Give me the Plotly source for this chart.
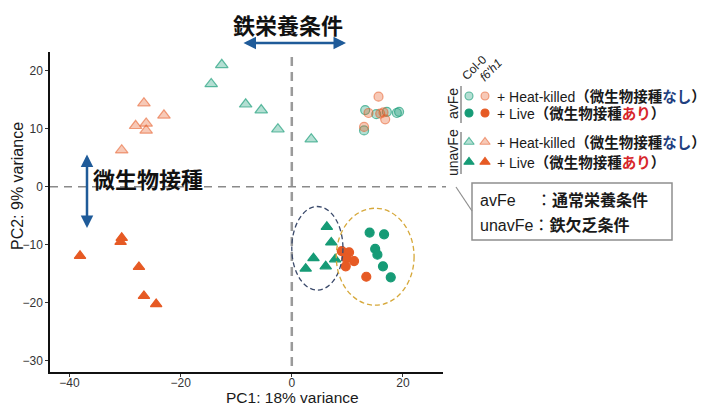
import plotly.graph_objects as go

# ---------------- data ----------------
# avFe, heat-killed (circles, light)
col0_hk_av_x = [13.2, 15.2, 17.1, 18.9, 19.3, 13.0]
col0_hk_av_y = [13.2, 12.5, 12.9, 12.7, 12.9, 9.7]
f6h1_hk_av_x = [15.6, 13.8, 16.5, 15.9, 16.8, 13.0]
f6h1_hk_av_y = [15.5, 12.7, 12.8, 12.6, 11.6, 10.3]
# avFe, live (circles, solid)
col0_live_av_x = [14.0, 16.6, 15.0, 15.4, 16.4, 17.8]
col0_live_av_y = [-7.9, -8.2, -10.7, -11.7, -13.7, -15.6]
f6h1_live_av_x = [9.0, 10.3, 9.8, 11.2, 9.7, 13.4]
f6h1_live_av_y = [-11.1, -11.3, -12.3, -12.8, -13.7, -15.5]
# unavFe, heat-killed (triangles, light)
col0_hk_unav_x = [-14.5, -12.6, -8.3, -5.5, -2.5, 3.5]
col0_hk_unav_y = [17.7, 21.0, 14.2, 13.2, 9.9, 8.2]
f6h1_hk_unav_x = [-26.6, -28.1, -26.2, -26.2, -23.0, -30.6]
f6h1_hk_unav_y = [14.4, 10.5, 10.9, 9.7, 12.3, 6.3]
# unavFe, live (triangles, solid)
col0_live_unav_x = [6.3, 7.1, 3.9, 2.5, 6.1, 7.8]
col0_live_unav_y = [-6.9, -9.6, -12.3, -14.1, -13.7, -12.5]
f6h1_live_unav_x = [-38.1, -30.6, -30.8, -27.5, -26.6, -24.4]
f6h1_live_unav_y = [-11.9, -8.8, -9.5, -13.8, -18.8, -20.2]

x_ticks = [-40, -20, 0, 20]
y_ticks = [-30, -20, -10, 0, 10, 20]

# ---------------- styling ----------------
TEAL = "#169b76"
ORANGE = "#e65a24"
TEAL_LIGHT = "rgba(22,155,118,0.32)"
ORANGE_LIGHT = "rgba(230,90,36,0.33)"
TEAL_EDGE = "rgba(22,155,118,0.65)"
ORANGE_EDGE = "rgba(230,90,36,0.55)"
NAVY = "#1f5b99"
FONT = "Arial, 'Liberation Sans', 'Noto Sans CJK JP', sans-serif"
CJK = "'Noto Sans CJK JP', sans-serif"

W, H = 706, 406
PL, PR, PT, PB = 50, 443, 52, 372  # plot area in pixels

fig = go.Figure()

def add(xs, ys, sym, fill, edge, size):
    fig.add_trace(go.Scatter(
        x=xs, y=ys, mode="markers", showlegend=False, hoverinfo="skip",
        marker=dict(symbol=sym, size=size, color=fill,
                    line=dict(color=edge, width=1.2)),
        xaxis="x", yaxis="y"))

add(col0_hk_unav_x, col0_hk_unav_y, "triangle-up", TEAL_LIGHT, TEAL_EDGE, 11)
add(f6h1_hk_unav_x, f6h1_hk_unav_y, "triangle-up", ORANGE_LIGHT, ORANGE_EDGE, 11)
add(col0_hk_av_x, col0_hk_av_y, "circle", TEAL_LIGHT, TEAL_EDGE, 9)
add(f6h1_hk_av_x, f6h1_hk_av_y, "circle", ORANGE_LIGHT, ORANGE_EDGE, 9)
add(col0_live_unav_x, col0_live_unav_y, "triangle-up", TEAL, TEAL, 10)
add(f6h1_live_unav_x, f6h1_live_unav_y, "triangle-up", ORANGE, ORANGE, 10)
add(col0_live_av_x, col0_live_av_y, "circle", TEAL, TEAL, 9)
add(f6h1_live_av_x, f6h1_live_av_y, "circle", ORANGE, ORANGE, 9)

# ---------------- custom legend (pixel overlay axes x2/y2) ----------------
leg_rows = [96, 113, 142, 162]
leg_col_x = [469, 485]
leg_specs = [
    ("circle", [TEAL_LIGHT, ORANGE_LIGHT], [TEAL_EDGE, ORANGE_EDGE], 8),
    ("circle", [TEAL, ORANGE], [TEAL, ORANGE], 8),
    ("triangle-up", [TEAL_LIGHT, ORANGE_LIGHT], [TEAL_EDGE, ORANGE_EDGE], 9),
    ("triangle-up", [TEAL, ORANGE], [TEAL, ORANGE], 9),
]
for ry, (sym, fills, edges, sz) in zip(leg_rows, leg_specs):
    fig.add_trace(go.Scatter(
        x=leg_col_x, y=[ry, ry], mode="markers", showlegend=False,
        hoverinfo="skip", xaxis="x2", yaxis="y2",
        marker=dict(symbol=sym, size=sz, color=fills,
                    line=dict(color=edges, width=1.1))))

leg_texts = [
    "+ Heat-killed<span style='font-size:14.5px'><b>（微生物接種<span style='color:#1f3f7f'>なし</span>）</b></span>",
    "+ Live<span style='font-size:14.5px'><b>（微生物接種<span style='color:#d7262b'>あり</span>）</b></span>",
    "+ Heat-killed<span style='font-size:14.5px'><b>（微生物接種<span style='color:#1f3f7f'>なし</span>）</b></span>",
    "+ Live<span style='font-size:14.5px'><b>（微生物接種<span style='color:#d7262b'>あり</span>）</b></span>",
]

annotations = []
for ry, t in zip(leg_rows, leg_texts):
    annotations.append(dict(xref="x2", yref="y2", x=495, y=ry, text=t,
                            showarrow=False, xanchor="left", yanchor="middle",
                            font=dict(family=FONT, size=14, color="#1a1a1a")))

annotations += [
    dict(xref="x2", yref="y2", x=474, y=68, text="Col-0", textangle=-45,
         showarrow=False, font=dict(family=FONT, size=12, color="#222")),
    dict(xref="x2", yref="y2", x=491, y=70, text="<i>f6'h1</i>", textangle=-45,
         showarrow=False, font=dict(family=FONT, size=12, color="#222")),
    dict(xref="x2", yref="y2", x=453, y=104, text="avFe", textangle=-90,
         showarrow=False, font=dict(family=FONT, size=14, color="#222")),
    dict(xref="x2", yref="y2", x=453, y=153, text="unavFe", textangle=-90,
         showarrow=False, font=dict(family=FONT, size=14, color="#222")),
    # callout box text
    dict(xref="x2", yref="y2", x=478, y=200,
         text="avFe　 ：<b>通常栄養条件</b>", showarrow=False,
         xanchor="left", yanchor="middle",
         font=dict(family=FONT, size=16, color="#1a1a1a")),
    dict(xref="x2", yref="y2", x=478, y=225,
         text="unavFe：<b>鉄欠乏条件</b>", showarrow=False,
         xanchor="left", yanchor="middle",
         font=dict(family=FONT, size=16, color="#1a1a1a")),
    # big labels
    dict(xref="x2", yref="y2", x=288, y=24, text="<b>鉄栄養条件</b>",
         showarrow=False, font=dict(family=CJK, size=22, color="#111")),
    dict(xref="x2", yref="y2", x=91, y=178, text="<b>微生物接種</b>",
         showarrow=False, xanchor="left",
         font=dict(family=CJK, size=22, color="#111")),
    # arrows
    dict(xref="x2", yref="y2", axref="x2", ayref="y2",
         x=346, y=43, ax=242, ay=43, text="", showarrow=True,
         arrowhead=2, arrowside="end+start", arrowsize=1, arrowwidth=2.5,
         arrowcolor=NAVY),
    dict(xref="x2", yref="y2", axref="x2", ayref="y2",
         x=87, y=228, ax=87, ay=153, text="", showarrow=True,
         arrowhead=2, arrowside="end+start", arrowsize=1, arrowwidth=2.5,
         arrowcolor=NAVY),
    # axis titles
    dict(xref="x2", yref="y2", x=292, y=397, text="PC1: 18% variance",
         showarrow=False, font=dict(family=FONT, size=15.5, color="#1a1a1a")),
    dict(xref="x2", yref="y2", x=17, y=186, text="PC2: 9% variance",
         textangle=-90, showarrow=False,
         font=dict(family=FONT, size=16, color="#1a1a1a")),
]

shapes = [
    # reference dashed lines
    dict(type="line", xref="x", yref="y2", x0=0, x1=0, y0=57, y1=372,
         line=dict(color="#9a9a9a", width=2.5, dash="9px,6px"), layer="below"),
    dict(type="line", xref="x2", yref="y", x0=PL, x1=446, y0=0, y1=0,
         line=dict(color="#8a8a8a", width=1.4, dash="8px,6px"), layer="below"),
    # ellipses
    dict(type="circle", xref="x", yref="y", x0=0.0, x1=9.2, y0=-17.8, y1=-3.4,
         line=dict(color="#3b4a6b", width=1.3, dash="5px,3px")),
    dict(type="circle", xref="x", yref="y", x0=8.0, x1=22.0, y0=-20.4, y1=-3.7,
         line=dict(color="#d6a83a", width=1.3, dash="5px,3px")),
    # legend group bars
    dict(type="line", xref="x2", yref="y2", x0=461, x1=461, y0=86, y1=123,
         line=dict(color="#555", width=1)),
    dict(type="line", xref="x2", yref="y2", x0=461, x1=461, y0=132, y1=174,
         line=dict(color="#555", width=1)),
    # callout box and pointer
    dict(type="rect", xref="x2", yref="y2", x0=472, x1=672, y0=183, y1=240,
         line=dict(color="#8f8f8f", width=1.5), fillcolor="white"),
    dict(type="line", xref="x2", yref="y2", x0=456, x1=472, y0=187, y1=211,
         line=dict(color="#8f8f8f", width=1.2)),
]

axis_common = dict(showgrid=False, zeroline=False, showline=True,
                   linecolor="#111", linewidth=1.5, ticks="outside",
                   ticklen=3, tickwidth=1, tickcolor="#333",
                   tickfont=dict(family=FONT, size=12, color="#333"))

fig.update_layout(
    width=W, height=H, margin=dict(l=0, r=0, t=0, b=0, pad=0),
    paper_bgcolor="white", plot_bgcolor="rgba(0,0,0,0)",
    showlegend=False,
    xaxis=dict(domain=[PL / W, PR / W], range=[-43.5, 27.2],
               tickvals=x_ticks, ticktext=[str(v).replace("-", "−") for v in x_ticks],
               anchor="y", automargin=False, ticklabelstandoff=-4, **axis_common),
    yaxis=dict(domain=[(H - PB) / H, (H - PT) / H], range=[-31.9, 23.2],
               tickvals=y_ticks, ticktext=[str(v).replace("-", "−") for v in y_ticks],
               anchor="x", automargin=False, **axis_common),
    xaxis2=dict(domain=[0, 1], range=[0, W], visible=False, anchor="y2",
                fixedrange=True),
    yaxis2=dict(domain=[0, 1], range=[H, 0], visible=False, anchor="x2",
                fixedrange=True),
    shapes=shapes, annotations=annotations,
)

fig.write_html("out.html", config={"displayModeBar": False},
               post_script="document.body.style.margin='0';"
                           "document.body.style.overflow='hidden';")
